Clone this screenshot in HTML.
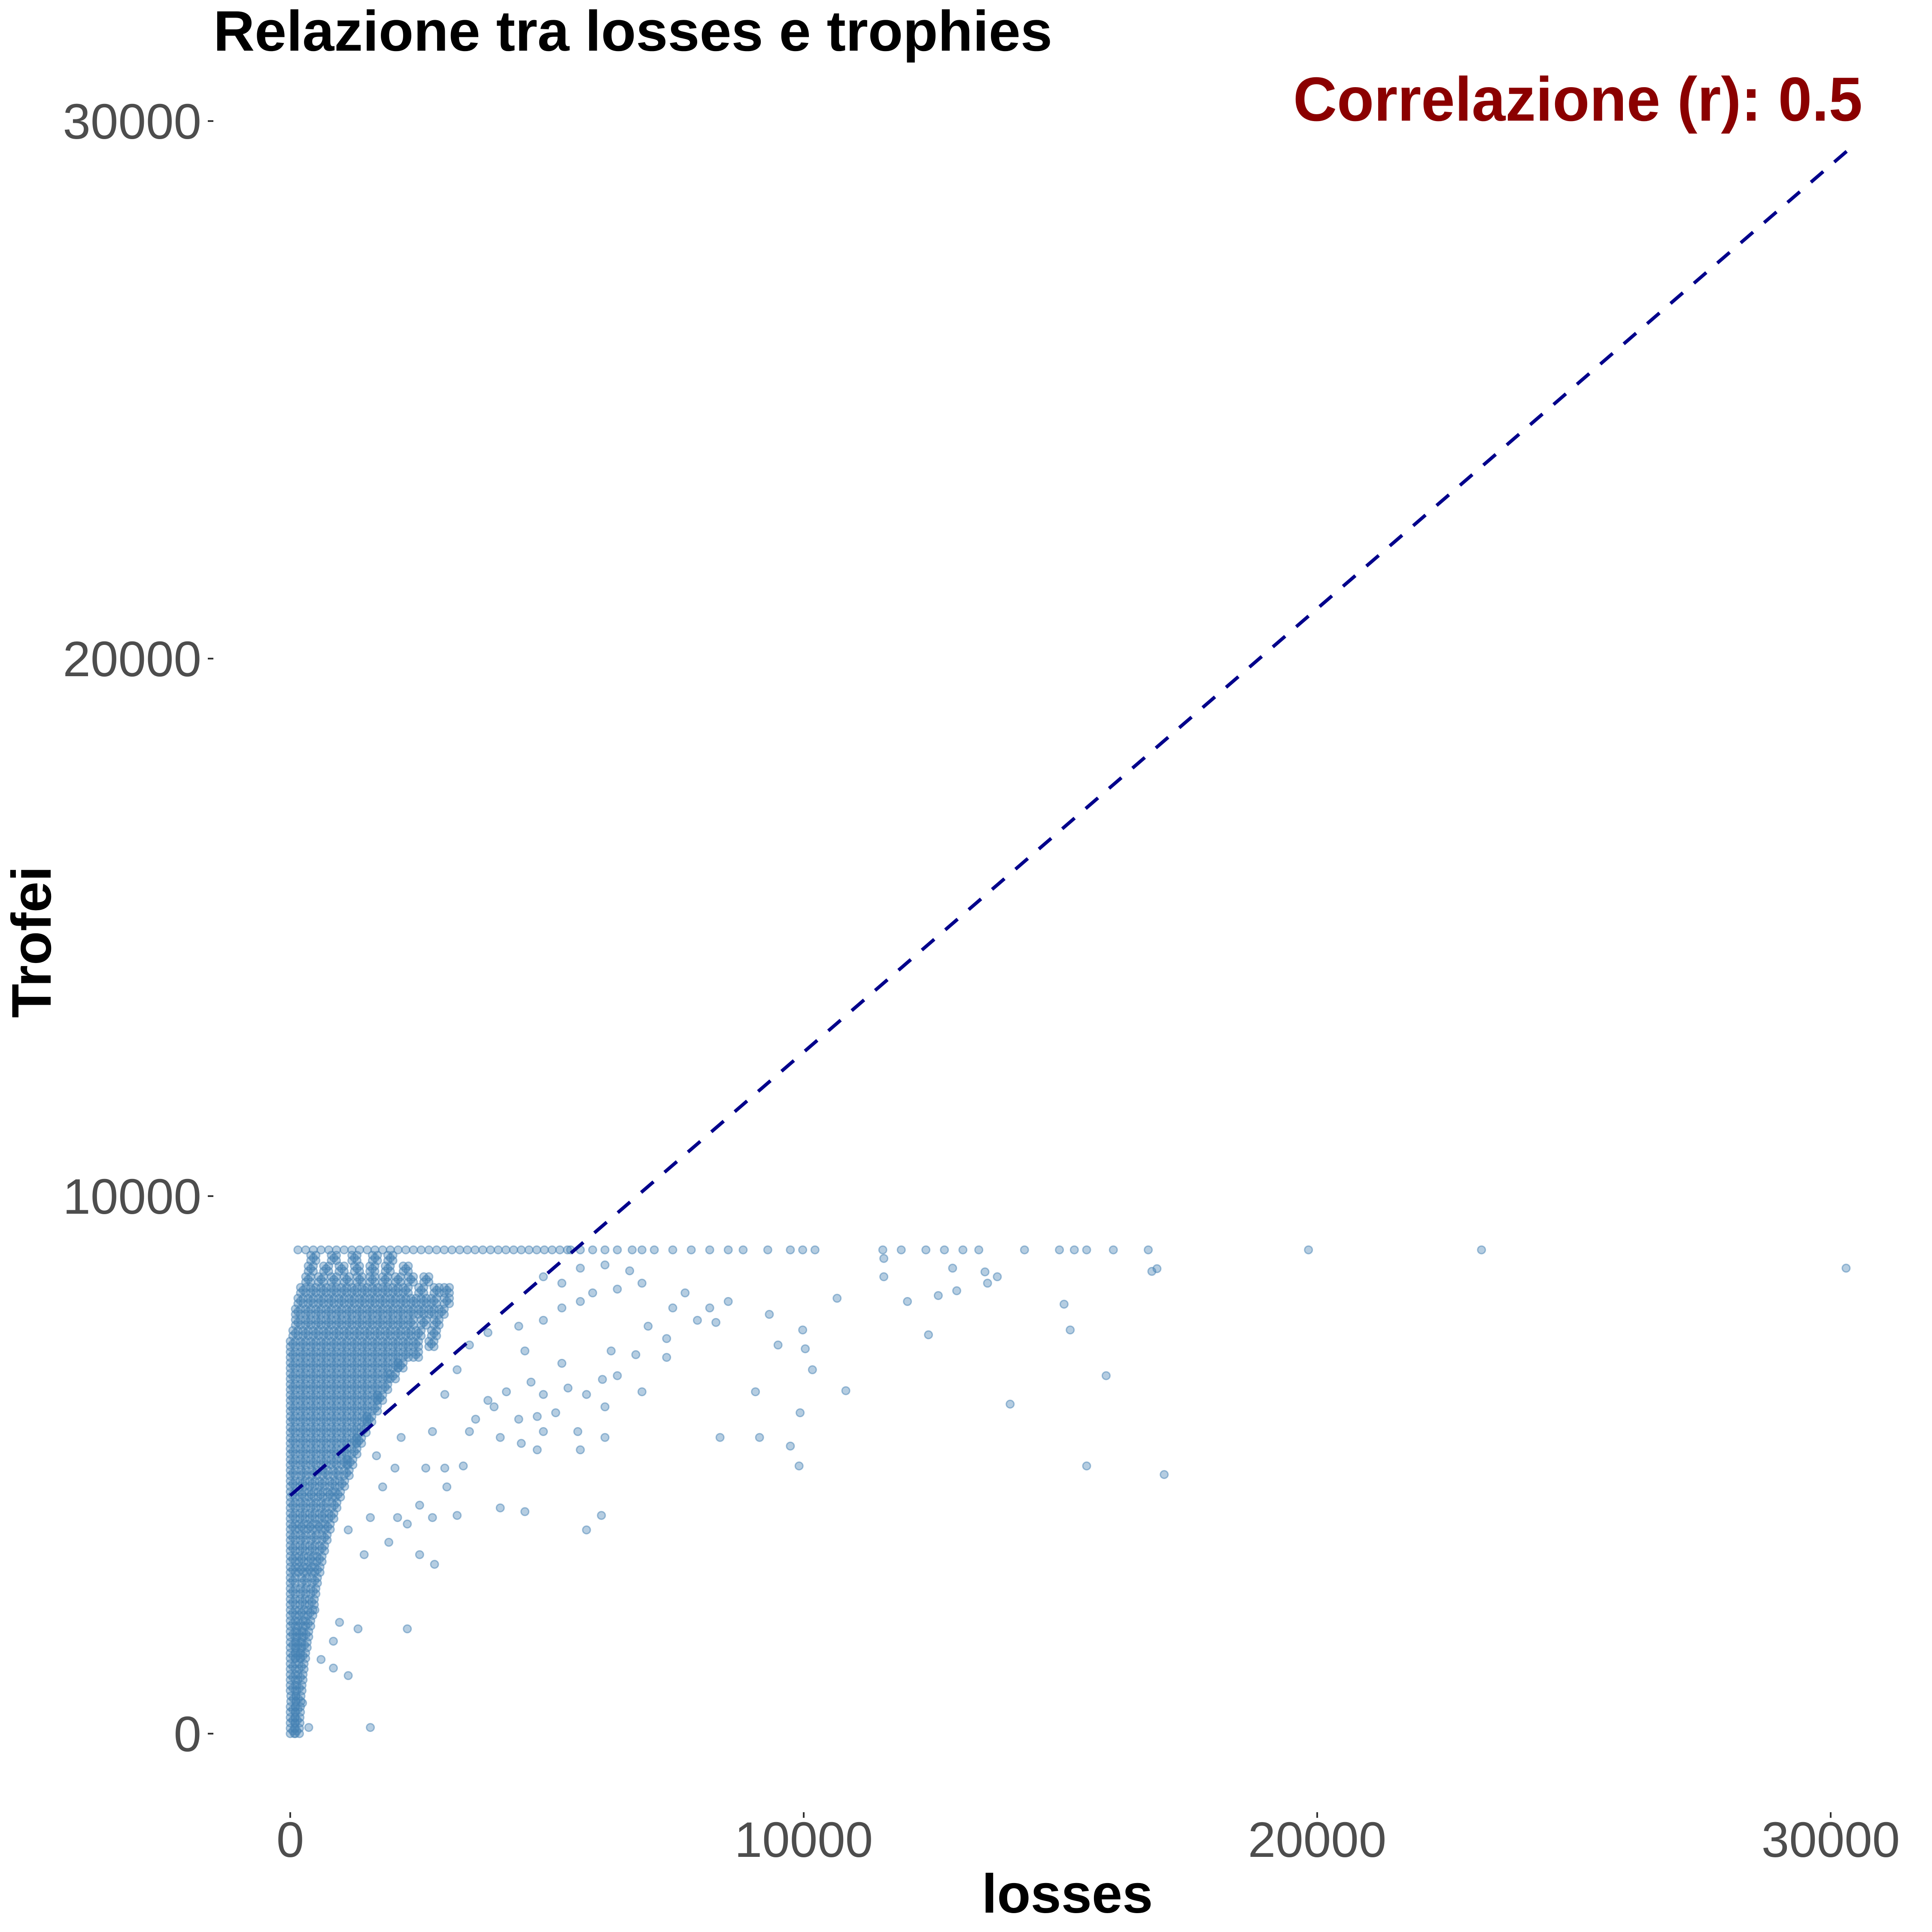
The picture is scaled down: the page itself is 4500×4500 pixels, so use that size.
<!DOCTYPE html>
<html><head><meta charset="utf-8">
<style>html,body{margin:0;padding:0;background:#fff;}svg{display:block;}</style>
</head><body>
<svg id="chart" xmlns="http://www.w3.org/2000/svg" width="4500" height="4500" viewBox="0 0 4500 4500" font-family="Liberation Sans, Arial, sans-serif">
<rect x="0" y="0" width="4500" height="4500" fill="#fff"/>
<text x="497" y="118" font-size="133" font-weight="bold" fill="#000" textLength="1954" lengthAdjust="spacingAndGlyphs">Relazione tra losses e trophies</text>
<text x="4338" y="281" font-size="145" font-weight="bold" fill="#8b0000" text-anchor="end" textLength="1326" lengthAdjust="spacingAndGlyphs">Correlazione (r): 0.5</text>
<text x="2486" y="4455" font-size="128" font-weight="bold" fill="#000" text-anchor="middle">losses</text>
<text x="0" y="0" transform="translate(118,2194) rotate(-90)" font-size="130" font-weight="bold" fill="#000" text-anchor="middle">Trofei</text>
<g id="axes"></g>
<g id="points"></g>
<g id="fit"></g>
</svg>
<script>
const xTicks = [0, 10000, 20000, 30000];
const yTicks = [0, 10000, 20000, 30000];
const fitIntercept = 4430;
const fitSlope = 0.825;
const fitXMax = 30340;

const topRowTrophy = 9000;
const topRowLosses = [150,300,450,600,750,900,1050,1200,1350,1500,1650,1800,1950,2100,2250,2400,2550,2700,2850,3000,3150,3300,3450,3600,3750,3900,4050,4200,4350,4500,4650,4800,4950,5100,5250,5400,5460,5650,5890,6130,6370,6660,6850,7090,7450,7810,8170,8530,8820,9300,9740,9980,10220,11540,11900,12380,12740,13100,13410,14300,14980,15270,15510,16030,16710,19830,23200];

const looseLosses = [30300,16880,16780,11560,11560,12900,13530,13770,15070,15190,10650,12020,12430,12620,12980,13580,9330,9980,9500,10030,10170,10820,9060,15890,14020,8370,9140,9740,9930,9910,15510,17020,2810,1560,8530,8170,8290,7450,7690,7330,6970,7930,7330,6850,6370,6730,6250,6080,5770,5410,6130,5600,5170,4930,4810,4500,5650,6130,6060,5770,4810,3970,4210,4690,3850,3490,3370,3010,2520,2280,2770,3250,4090,4570,3050,1560,1130,1320,960,480,840,600,840,1130,240,360,2280,3490,3850,4450,4930,5290,5650,5890,5290,4930,6370,6610,6850,5650,6130,3010,3250,3610,4090,4450,4930,5290,4570,2770,2640,2040,2160,1800,1680,1920,2090,2520,1440];
const looseTrophies = [8660,8650,8600,8840,8500,8660,8590,8500,7990,7510,8100,8040,7420,8150,8240,8380,7800,7510,7230,7160,6770,6380,6360,6660,6130,5510,5510,5350,5970,4980,4980,4820,3150,115,8040,7920,7650,7920,8200,7350,7580,7690,7000,6360,6660,7050,7120,6590,6310,6430,6080,5620,5970,5620,5280,5400,5280,5510,4060,3790,5900,6080,6360,6540,6200,5620,4980,4940,4250,3900,4020,4060,4200,4130,4590,4020,3790,1950,2070,2300,1720,1380,1220,1080,570,115,1950,7230,7460,7580,7690,7920,8040,8200,8380,8500,8270,8610,8380,8660,8720,6310,6770,5850,5510,5850,6310,6890,7120,5620,4940,4940,5510,4590,5170,3560,4020,3330,3330];

const blobTrophies = [0,200,400,600,800,1000,1200,1400,1600,1800,2000,2200,2400,2600,2800,3000,3200,3400,3600,3800,4000,4200,4400,4600,4800,5000,5200,5400,5600,5800,6000,6200,6400,6600,6800,7000,7200,7400,7600,7800,8000,8200,8400,8600,8800];
const blobLosses = [
[0,80],[0,90],[0,100],[10,110],[0,130],[0,150],[0,170],[0,100,200],[0,110,230],[0,130,260],[0,150,300],[0,170,340],[0,190,370],[0,200,400],[0,220,430],
[0,160,320,480],[0,170,350,520],[0,190,380,570],[0,200,410,620],[0,170,340,510,680],[0,190,380,570,750],[0,200,400,600,810],
[0,180,360,540,720,880],[0,190,380,570,770,960],[0,210,420,630,840,1050],[0,200,400,600,800,1000,1120],[0,200,400,600,800,1000,1200],
[0,200,400,600,800,1000,1200,1290],[0,200,400,600,800,1000,1200,1380],[0,200,400,600,800,1000,1200,1400,1490],[0,200,400,600,800,1000,1200,1400,1600],
[0,200,400,600,800,1000,1200,1400,1600,1700],[0,200,400,600,800,1000,1200,1400,1600,1800],[0,200,400,600,800,1000,1200,1400,1600,1800,1950],
[0,200,400,600,800,1000,1200,1400,1600,1800,2000,2100],[0,200,400,600,800,1000,1200,1400,1600,1800,2000,2200,2400],
[0,200,400,600,800,1000,1200,1400,1600,1800,2000,2200,2400,2700],[50,250,450,650,850,1050,1250,1450,1650,1850,2050,2250,2450,2750],
[100,300,500,700,900,1100,1300,1500,1700,1900,2100,2300,2550,2800],[100,300,500,700,900,1100,1300,1500,1700,1900,2100,2300,2500,2700,2900],
[150,350,550,750,950,1150,1350,1550,1750,1950,2150,2350,2550,2750,3000],[200,400,600,800,1000,1200,1400,1600,1800,2000,2200,2500,2800,3000],
[300,550,800,1050,1300,1550,1800,2050,2300,2600],[350,650,950,1250,1550,1850,2200],[400,800,1200,1600,1900]
];

const NS = 'http://www.w3.org/2000/svg';
const X0 = 676, XS = 0.1196, Y0 = 4038, YS = 0.1252;
function sx(v){ return X0 + v * XS; }
function sy(v){ return Y0 - v * YS; }

const axes = document.getElementById('axes');
xTicks.forEach(function(t){
  const ln = document.createElementNS(NS,'line');
  ln.setAttribute('x1', sx(t)); ln.setAttribute('x2', sx(t));
  ln.setAttribute('y1', 4221); ln.setAttribute('y2', 4234);
  ln.setAttribute('stroke', '#333'); ln.setAttribute('stroke-width', 4);
  
  
  axes.appendChild(ln);
  const tx = document.createElementNS(NS,'text');
  tx.setAttribute('x', sx(t)); tx.setAttribute('y', 4325);
  tx.setAttribute('text-anchor', 'middle'); tx.setAttribute('font-size', 116); tx.setAttribute('fill', '#4d4d4d');
  tx.textContent = String(t);
  
  
  axes.appendChild(tx);
});
yTicks.forEach(function(t){
  const ln = document.createElementNS(NS,'line');
  ln.setAttribute('x1', 484); ln.setAttribute('x2', 497);
  ln.setAttribute('y1', sy(t)); ln.setAttribute('y2', sy(t));
  ln.setAttribute('stroke', '#333'); ln.setAttribute('stroke-width', 4);
  
  
  axes.appendChild(ln);
  const tx = document.createElementNS(NS,'text');
  tx.setAttribute('x', 469); tx.setAttribute('y', sy(t) + 41);
  tx.setAttribute('text-anchor', 'end'); tx.setAttribute('font-size', 116); tx.setAttribute('fill', '#4d4d4d');
  tx.textContent = String(t);
  
  
  axes.appendChild(tx);
});

const pts = document.getElementById('points');
function dot(lx, ty){
  const c = document.createElementNS(NS,'circle');
  c.setAttribute('cx', sx(lx).toFixed(1)); c.setAttribute('cy', sy(ty).toFixed(1));
  c.setAttribute('r', 9);
  c.setAttribute('fill', '#4682b4'); c.setAttribute('fill-opacity', 0.4);
  c.setAttribute('stroke', '#4682b4'); c.setAttribute('stroke-opacity', 0.5); c.setAttribute('stroke-width', 3);
  
  
  pts.appendChild(c);
}
blobTrophies.forEach(function(ty, i){
  blobLosses[i].forEach(function(lx){
    dot(lx, ty); dot(lx + 100, ty); dot(lx, ty + 100); dot(lx + 100, ty + 100); dot(lx + 50, ty + 50);
  });
});
topRowLosses.forEach(function(lx){ dot(lx, topRowTrophy); });
looseLosses.forEach(function(lx, i){ dot(lx, looseTrophies[i]); });

const fit = document.getElementById('fit');
const fl = document.createElementNS(NS,'line');
fl.setAttribute('x1', sx(0)); fl.setAttribute('y1', sy(fitIntercept));
fl.setAttribute('x2', sx(fitXMax)); fl.setAttribute('y2', sy(fitIntercept + fitSlope * fitXMax));
fl.setAttribute('stroke', '#00008b'); fl.setAttribute('stroke-width', 8);
fl.setAttribute('stroke-dasharray', '38 34');


fit.appendChild(fl);
</script>
</body></html>
